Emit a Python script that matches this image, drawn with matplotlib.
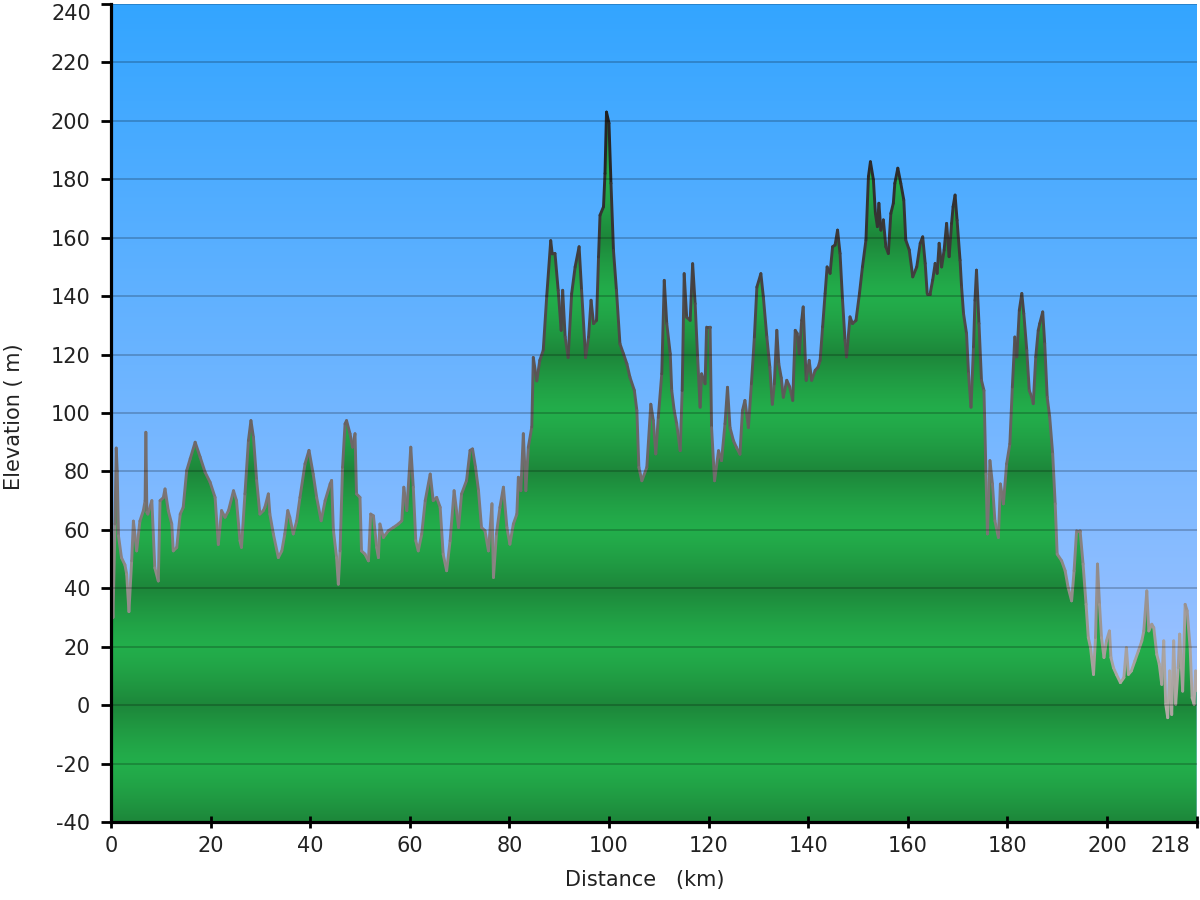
import numpy as np
import matplotlib
matplotlib.use("Agg")
import matplotlib.pyplot as plt
import matplotlib.transforms as mtransforms
from matplotlib.collections import LineCollection
from matplotlib.colors import LinearSegmentedColormap, to_rgb

# ---------------- data ----------------
distance_km = [
    0.0, 0.4, 0.8, 1.05, 1.25, 1.5, 2.1, 2.8, 3.15, 3.6, 4.15, 4.5, 5.15, 5.8, 6.5, 6.85, 7.0, 7.2, 7.4,
    8.2, 8.8, 9.5, 9.85, 10.5, 10.85, 11.5, 12.2, 12.5, 13.2, 13.9, 14.5, 15.2, 15.9, 16.9, 17.9, 18.9,
    19.9, 20.9, 21.55, 22.2, 22.9, 23.6, 24.6, 25.2, 25.9, 26.2, 26.9, 27.6, 28.1, 28.6, 29.25, 29.9,
    30.6, 30.9, 31.6, 31.9, 32.6, 33.6, 34.3, 34.9, 35.5, 35.9, 36.6, 37.3, 37.95, 38.96, 39.76, 40.6,
    41.3, 42.2, 43.0, 44.0, 44.3, 44.65, 45.3, 45.65, 46.0, 46.5, 47.0, 47.3, 48.0, 48.5, 49.0, 49.3,
    50.0, 50.3, 51.0, 51.7, 52.15, 52.7, 53.35, 53.7, 54.0, 54.7, 55.7, 56.7, 57.7, 58.4, 58.8, 59.4,
    60.2, 60.7, 61.2, 61.7, 62.4, 63.1, 64.1, 64.7, 65.4, 66.1, 66.7, 67.4, 68.1, 68.9, 69.8, 70.4,
    71.4, 72.1, 72.6, 73.2, 73.8, 74.4, 75.1, 75.8, 76.5, 76.8, 77.4, 78.1, 78.8, 79.5, 80.1, 80.8,
    81.5, 81.8, 82.3, 82.8, 83.3, 83.8, 84.5, 84.8, 85.5, 86.1, 86.8, 87.5, 88.3, 88.6, 89.16, 89.8,
    90.4, 90.7, 91.2, 91.8, 92.5, 93.2, 94.0, 94.5, 95.3, 95.9, 96.4, 96.9, 97.5, 97.9, 98.2, 98.9,
    99.2, 99.5, 100.0, 100.4, 100.9, 101.5, 102.2, 102.9, 103.6, 104.2, 105.1, 105.6, 106.0, 106.6,
    107.6, 108.4, 108.9, 109.4, 109.9, 110.6, 111.1, 111.6, 112.3, 112.6, 113.1, 113.6, 114.3, 114.7,
    115.1, 115.6, 116.3, 116.8, 117.3, 117.8, 118.3, 118.6, 119.3, 119.6, 120.3, 120.6, 121.2, 122.0,
    122.6, 123.3, 123.8, 124.3, 125.0, 125.6, 126.3, 126.8, 127.3, 128.0, 128.6, 129.2, 129.7, 130.5,
    131.0, 131.7, 132.3, 132.8, 133.2, 133.7, 134.1, 134.6, 135.0, 135.7, 136.3, 136.9, 137.4, 137.8,
    138.2, 138.7, 139.0, 139.6, 140.2, 140.7, 141.4, 142.0, 142.4, 142.9, 143.4, 143.8, 144.4, 144.9,
    145.4, 145.9, 146.4, 146.9, 147.4, 147.7, 148.4, 148.9, 149.6, 150.3, 150.9, 151.6, 152.1, 152.5,
    153.1, 153.5, 153.9, 154.2, 154.6, 155.1, 155.6, 156.1, 156.6, 157.1, 157.4, 158.0, 158.6, 159.2,
    159.6, 160.3, 161.0, 161.8, 162.5, 163.0, 163.5, 163.9, 164.5, 165.0, 165.5, 165.9, 166.3, 166.8,
    167.3, 167.8, 168.3, 168.8, 169.1, 169.5, 169.9, 170.5, 170.8, 171.2, 171.8, 172.2, 172.7, 173.2,
    173.5, 173.8, 174.3, 174.8, 175.3, 175.7, 176.0, 176.5, 177.0, 177.5, 178.2, 178.6, 179.2, 179.85,
    180.5, 181.0, 181.5, 181.9, 182.4, 182.9, 183.3, 183.9, 184.4, 184.9, 185.2, 185.7, 186.2, 186.5,
    187.1, 187.5, 188.0, 188.5, 189.1, 189.6, 190.0, 190.9, 191.6, 192.2, 192.9, 193.4, 193.9, 194.6,
    195.2, 195.8, 196.25, 196.7, 197.3, 197.7, 198.1, 198.5, 198.9, 199.4, 199.9, 200.5, 200.8, 201.3,
    201.9, 202.7, 203.4, 203.9, 204.3, 204.9, 205.6, 206.3, 207.0, 207.4, 208.0, 208.4, 209.0, 209.4,
    210.0, 210.5, 211.0, 211.4, 211.8, 212.2, 212.6, 213.0, 213.4, 213.8, 214.3, 214.6, 215.2, 215.7,
    216.1, 216.7, 217.1, 217.5, 217.8, 218.0,
]
elevation_m = [
    50, 30, 62, 88, 80, 58, 50.5, 48, 44.8, 32, 49.4, 63, 52.8, 63, 66.6, 70, 93.4, 66, 65.4,
    70, 47, 42.5, 70, 71, 74, 66.6, 62, 52.8, 54, 65.4, 67.7, 80.3, 84.3, 90, 84.9, 79.7,
    76.3, 71.1, 55, 66.6, 64.3, 66.6, 73.4, 70, 56.3, 54, 72.3, 90.6, 97.4, 91.7, 76.9, 65.4,
    66.6, 67.7, 72.3, 65.4, 58.6, 50.5, 52.8, 58.6, 66.6, 64.3, 58.6, 63.1, 71.1, 82.6, 87.2, 79.1,
    71.1, 63.1, 70, 75.7, 76.9, 60, 50.5, 41.4, 52.8, 81.4, 96.3, 97.4, 92.9, 88.3, 92.9, 72.3,
    71.1, 52.8, 51.7, 49.4, 65.4, 64.8, 54, 50.5, 62, 57.4, 59.7, 60.8, 62, 63.1, 74.6, 66.6,
    88.3, 74.6, 56.3, 52.8, 58.6, 70, 79.1, 70, 71.1, 67.7, 51.7, 46, 56.3, 73.4, 60.8, 72.3,
    76.9, 87.2, 87.7, 81.4, 73.4, 60.8, 59.7, 52.8, 68.9, 43.7, 58.6, 67.7, 74.6, 60.8, 55.1, 62,
    65.4, 78, 73.4, 92.9, 73.4, 88.3, 95.2, 119, 111, 118, 121.5, 140, 159, 154.5, 154.6, 142,
    128.3, 142, 126, 119, 140.8, 150, 156.9, 142, 119, 126, 138.6, 130.6, 131.7, 153.4, 167.7, 170.6,
    182, 203, 199.2, 178.6, 155.7, 142, 123.7, 120.3, 116.8, 112.3, 107.7, 100.8, 81.4, 76.8,
    81.4, 103, 97.4, 86, 98.5, 113.4, 145.4, 130.6, 120.3, 107.7, 100.8, 96.3, 87.1, 107.7,
    147.7, 132.8, 131.7, 151.1, 137.4, 119, 102, 113.4, 110, 129.4, 129.4, 95, 76.8, 87.1,
    83.7, 96.3, 108.8, 95, 90.5, 88.2, 85.9, 100.8, 104.3, 95, 110, 126, 143.1, 147.7,
    139.7, 126, 115.7, 103, 110, 128.3, 116.8, 112, 105.4, 111.2, 108.9, 104.3, 128.3, 127.2,
    120.3, 131.7, 136.3, 111.2, 118, 111.2, 114.6, 115.7, 118, 129.5, 140.9, 150, 147.8, 156.9,
    157.5, 162.6, 154.6, 138.6, 124.9, 119.2, 132.9, 130.6, 131.7, 140.9, 150, 159.2, 180.9, 186,
    179.8, 168.3, 163.8, 171.8, 162.6, 166.1, 156.9, 154.6, 168.3, 171.8, 178.6, 183.8, 178.6, 172.9,
    159.2, 155.8, 146.6, 150, 158.1, 160.3, 151.2, 140.9, 140.9, 145.5, 151.2, 147.8, 158.1, 150,
    155.8, 164.9, 153.5, 164.9, 170.6, 174.6, 166, 152.3, 143.2, 134, 127.2, 113.5, 102, 122.6,
    138.6, 148.9, 130.6, 111.2, 107.7, 79.1, 58.6, 83.7, 75.7, 63.1, 57.4, 75.7, 68.9, 82.6,
    89.4, 108.9, 126, 119.2, 135.2, 140.9, 134, 121.4, 107.7, 105.4, 103.2, 119.2, 128.3, 130.6,
    134.6, 123.7, 105.4, 98.6, 86, 68.9, 51.7, 49.4, 46, 40.3, 35.7, 46, 59.7, 59.7,
    48.3, 34.5, 23.1, 19.7, 10.5, 23.1, 48.3, 34.5, 23.1, 16.3, 22, 25.4, 16.3, 12.8,
    10.5, 7.7, 9.4, 19.7, 10.5, 11.7, 15.1, 18.5, 22, 25.4, 39.1, 25.4, 27.7, 26.5,
    17.4, 14, 7.1, 22, 0.3, -4.3, 11.7, -3.2, 22, 0.3, 12.8, 24.3, 4.8, 34.5,
    32.3, 19.7, 2.5, 0.3, 11.7, 5,
]
x_ticks = [0, 20, 40, 60, 80, 100, 120, 140, 160, 180, 200, 218]
y_ticks = list(range(-40, 241, 20))
x_label = "Distance   (km)"
y_label = "Elevation ( m)"

# ---------------- figure ----------------
W, H = 1200, 900
AX_L, AX_B, AX_W, AX_H = 111, 78, 1085.6, 818
AX_BOTTOM_PX = H - AX_B  # pixel row of the x axis, from the top
fig = plt.figure(figsize=(12, 9), dpi=100)
ax = fig.add_axes([AX_L / W, AX_B / H, AX_W / W, AX_H / H])
XMIN, XMAX, YMIN, YMAX = 0, 218, -40, 240
ax.set_xlim(XMIN, XMAX)
ax.set_ylim(YMIN, YMAX)

# sky gradient
top = np.array(to_rgb("#33A5FF"))
bot = np.array(to_rgb("#B2C7FF"))
f = np.linspace(0, 1, 512)[:, None]
sky = (bot * (1 - f) + top * f)[:, None, :]
ax.imshow(sky, extent=[XMIN, XMAX, YMIN, YMAX], origin="lower", aspect="auto",
          interpolation="bilinear", zorder=0)

# banded green fill (darker at every 40 m, lighter in between)
e = np.linspace(YMIN, YMAX, 2000)
t = (np.abs(((e % 40) - 20)) / 20.0) ** 1.3
light = np.array(to_rgb("#23AE4B"))
dark = np.array(to_rgb("#1D863A"))
band = (light * (1 - t[:, None]) + dark * t[:, None])[:, None, :]
poly = ax.fill_between(distance_km, elevation_m, YMIN, facecolor="none", edgecolor="none", zorder=1)
im = ax.imshow(band, extent=[XMIN, XMAX, YMIN, YMAX], origin="lower", aspect="auto",
               interpolation="bilinear", zorder=1)
im.set_clip_path(poly.get_paths()[0], transform=ax.transData)

# outline coloured by elevation
xs = np.array(distance_km)
ys = np.array(elevation_m)
pts = np.column_stack([xs, ys]).reshape(-1, 1, 2)
segs = np.concatenate([pts[:-1], pts[1:]], axis=1)
cmap = LinearSegmentedColormap.from_list("outline", ["#B4ACA8", "#7C7676", "#4A4646", "#1E1E1E"])
lc = LineCollection(segs, cmap=cmap, linewidths=2.1, capstyle="round", joinstyle="round", zorder=2)
lc.set_array((ys[:-1] + ys[1:]) / 2)
lc.set_clim(0, 205)
ax.add_collection(lc)

# horizontal grid
for yv in y_ticks:
    ax.axhline(yv, color=(0, 0, 0, 0.22), linewidth=1.3, zorder=3)

# axes styling
for s in ["top", "right"]:
    ax.spines[s].set_visible(False)
for s in ["left", "bottom"]:
    ax.spines[s].set_linewidth(2.3)
    ax.spines[s].set_color("black")
    ax.spines[s].set_zorder(5)

TXT = "#222222"
FS = 15
ax.set_xticks(x_ticks)
ax.set_yticks(y_ticks)
# the end labels (218 and 240) are drawn shifted inside the figure, as in the reference
ax.set_xticklabels([str(v) if v != x_ticks[-1] else "" for v in x_ticks])
ax.set_yticklabels([str(v) if v != y_ticks[-1] else "" for v in y_ticks])
ax.tick_params(axis="y", direction="out", length=7, width=2, colors="black", labelsize=FS,
               labelcolor=TXT, pad=8)
ax.tick_params(axis="x", direction="inout", length=8, width=2, colors="black", labelsize=FS,
               labelcolor=TXT, pad=6)

trans_y = mtransforms.blended_transform_factory(ax.transAxes, ax.transData)
ax.text((91 - AX_L) / AX_W, y_ticks[-1], str(y_ticks[-1]), transform=trans_y,
        ha="right", va="top", fontsize=FS, color=TXT, clip_on=False)
trans_x = mtransforms.blended_transform_factory(ax.transData, ax.transAxes)
px_per_km = AX_W / (XMAX - XMIN)
ax.text(x_ticks[-1] - 26 / px_per_km, -14 / AX_H, str(x_ticks[-1]), transform=trans_x,
        ha="center", va="top", fontsize=FS, color=TXT, clip_on=False)

ax.set_xlabel(x_label, fontsize=FS, color=TXT)
ax.set_ylabel(y_label, fontsize=FS, color=TXT)
ax.xaxis.set_label_coords((645 - AX_L) / AX_W, (AX_BOTTOM_PX - 870) / AX_H)
ax.yaxis.set_label_coords((24 - AX_L) / AX_W, (AX_BOTTOM_PX - 417) / AX_H)

fig.savefig("out.png", dpi=100, facecolor="white")
